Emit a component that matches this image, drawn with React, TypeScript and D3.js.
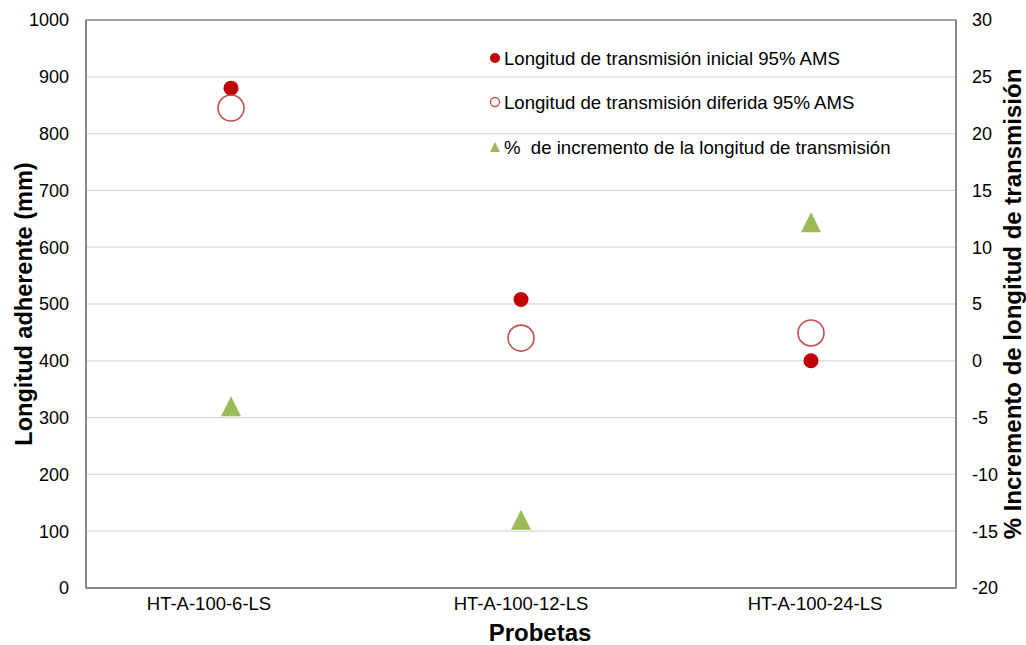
import React from "react";
import * as d3 from "d3";

const categories = ["HT-A-100-6-LS", "HT-A-100-12-LS", "HT-A-100-24-LS"];
const inicial = [880, 508, 400];
const diferida = [845, 440, 449];
const incremento = [-4.0, -14.0, 12.2];
const leftTicks = [0, 100, 200, 300, 400, 500, 600, 700, 800, 900, 1000];
const rightTicks = [-20, -15, -10, -5, 0, 5, 10, 15, 20, 25, 30];
const legendLabels = [
  "Longitud de transmisión inicial 95% AMS",
  "Longitud de transmisión diferida 95% AMS",
  "%  de incremento de la longitud de transmisión",
];

const W = 1026;
const H = 645;
const M = { left: 86, right: 956, top: 20, bottom: 588 };
const font = "'Liberation Sans', Arial, sans-serif";
const labelDx = [-22, 0, 4];

function triPath(cx: number, cy: number, s: number) {
  const p = d3.path();
  p.moveTo(cx, cy - s / 2);
  p.lineTo(cx + s / 2, cy + s / 2);
  p.lineTo(cx - s / 2, cy + s / 2);
  p.closePath();
  return p.toString();
}

export default function App() {
  const x = d3.scaleBand().domain(categories).range([M.left, M.right]);
  const yL = d3.scaleLinear().domain([0, 1000]).range([M.bottom, M.top]);
  const yR = d3.scaleLinear().domain([-20, 30]).range([M.bottom, M.top]);
  const cx = (c: string) => (x(c) as number) + x.bandwidth() / 2;

  return (
    <svg width={W} height={H} style={{ position: "absolute", left: 0, top: 0 }} fontFamily={font}>
      <rect x={0} y={0} width={W} height={H} fill="#fff" />
      {leftTicks.map((t) => (
        <line key={"g" + t} x1={M.left} x2={M.right} y1={yL(t)} y2={yL(t)} stroke="#d9d9d9" strokeWidth={1.3} />
      ))}
      <rect x={M.left} y={M.top} width={M.right - M.left} height={M.bottom - M.top} fill="none" stroke="#868686" strokeWidth={1.3} />
      <line x1={M.left} x2={M.left} y1={M.top} y2={M.bottom} stroke="#868686" strokeWidth={2} />
      <line x1={M.left} x2={M.right} y1={M.bottom} y2={M.bottom} stroke="#868686" strokeWidth={2} />
      <line x1={M.right} x2={M.right} y1={M.top} y2={M.bottom} stroke="#868686" strokeWidth={2} />
      {leftTicks.map((t) => (
        <text key={"l" + t} x={69} y={yL(t)} dy="0.35em" textAnchor="end" fontSize={18} fill="#000">{t}</text>
      ))}
      {rightTicks.map((t) => (
        <text key={"r" + t} x={972} y={yR(t)} dy="0.35em" textAnchor="start" fontSize={18} fill="#000">{t}</text>
      ))}
      {categories.map((c, i) => (
        <text key={c} x={cx(c) + labelDx[i]} y={610} textAnchor="middle" fontSize={18.5} fill="#000">{c}</text>
      ))}
      <text transform={`translate(32,${(M.top + M.bottom) / 2}) rotate(-90)`} textAnchor="middle" fontSize={23.5} fontWeight="bold" fill="#000">Longitud adherente (mm)</text>
      <text transform={`translate(1021,${(M.top + M.bottom) / 2}) rotate(-90)`} textAnchor="middle" fontSize={24} fontWeight="bold" fill="#000">% Incremento de longitud de transmisión</text>
      <text x={540} y={641} textAnchor="middle" fontSize={24} fontWeight="bold" fill="#000">Probetas</text>
      {categories.map((c, i) => (
        <g key={"m" + c}>
          <circle cx={cx(c)} cy={yL(inicial[i])} r={7.5} fill="#c00000" />
          <circle cx={cx(c)} cy={yL(diferida[i])} r={13} fill="none" stroke="#c0504d" strokeWidth={1.6} />
          <path d={triPath(cx(c), yR(incremento[i]), 20)} fill="#9bbb59" />
        </g>
      ))}
      <g>
        <circle cx={495} cy={58} r={5} fill="#c00000" />
        <text x={504} y={58} dy="0.35em" fontSize={18.6} fill="#000">{legendLabels[0]}</text>
        <circle cx={495} cy={102} r={4.5} fill="none" stroke="#c0504d" strokeWidth={1.3} />
        <text x={504} y={102} dy="0.35em" fontSize={18.6} fill="#000">{legendLabels[1]}</text>
        <path d={triPath(495, 147, 10)} fill="#9bbb59" />
        <text x={504} y={147} dy="0.35em" fontSize={18.6} fill="#000" style={{ whiteSpace: "pre" }}>{legendLabels[2]}</text>
      </g>
    </svg>
  );
}
